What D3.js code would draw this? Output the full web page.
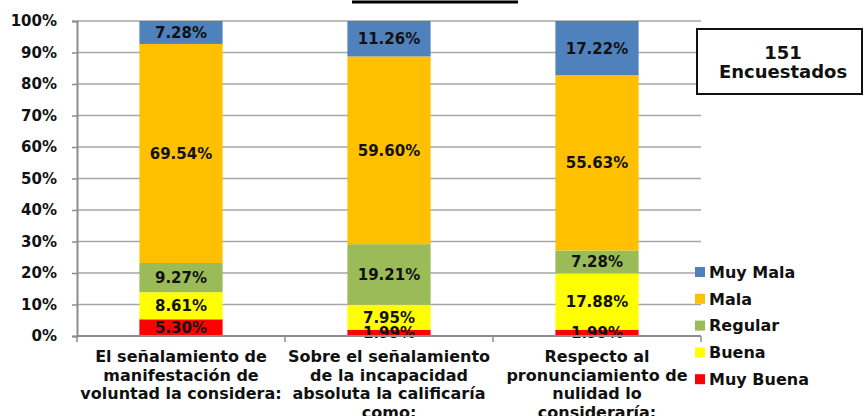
<!DOCTYPE html>
<html>
<head>
<meta charset="utf-8">
<script src="https://cdn.jsdelivr.net/npm/d3@7"></script>
<style>
  body { margin: 0; background: #fff; }
  svg { display: block; font-family: "DejaVu Sans", Arial, sans-serif; }
</style>
</head>
<body>
<svg width="864" height="416"></svg>
<script>
// data
let categories = [
    ["El señalamiento de", "manifestación de", "voluntad la considera:"],
    ["Sobre el señalamiento", "de la incapacidad", "absoluta la calificaría", "como:"],
    ["Respecto al", "pronunciamiento de", "nulidad lo", "consideraría:"]
];
let series = ["Muy Buena", "Buena", "Regular", "Mala", "Muy Mala"];
let muyBuena = [5.30, 1.99, 1.99];
let buena = [8.61, 7.95, 17.88];
let regular = [9.27, 19.21, 7.28];
let mala = [69.54, 59.60, 55.63];
let muyMala = [7.28, 11.26, 17.22];
let colors = ["#FF0000", "#FFFF00", "#9BBB59", "#FFC000", "#4F81BD"];
let yTicks = [0, 10, 20, 30, 40, 50, 60, 70, 80, 90, 100];
let boxText = ["151", "Encuestados"];

let values = [muyBuena, buena, regular, mala, muyMala];
let rows = categories.map((c, i) => {
    let r = {idx: i};
    series.forEach((s, j) => { r[s] = values[j][i]; });
    return r;
});

let svg = d3.select("svg");
let pLeft = 77, pRight = 701, pTop = 21, pBottom = 336;
let font = "DejaVu Sans, Arial, sans-serif";

let xScale = d3.scaleBand()
    .domain(d3.range(categories.length))
    .range([pLeft, pRight])
    .paddingInner(0.6)
    .paddingOuter(0.3);

let yScale = d3.scaleLinear()
    .domain([0, 100])
    .range([pBottom, pTop]);

// gridlines
svg.append("g")
    .selectAll("line")
    .data(yTicks.slice(1))
    .enter()
    .append("line")
    .attr("x1", pLeft)
    .attr("x2", pRight)
    .attr("y1", (d) => yScale(d))
    .attr("y2", (d) => yScale(d))
    .attr("stroke", "#a6a6a6")
    .attr("stroke-width", 1.5);

// stacked bars
let stack = d3.stack().keys(series)(rows);

let layers = svg.append("g")
    .selectAll("g")
    .data(stack)
    .enter()
    .append("g")
    .attr("fill", (d, i) => colors[i]);

layers.selectAll("rect")
    .data((d) => d)
    .enter()
    .append("rect")
    .attr("x", (d) => xScale(d.data.idx))
    .attr("width", xScale.bandwidth())
    .attr("y", (d) => yScale(d[1]))
    .attr("height", (d) => yScale(d[0]) - yScale(d[1]));

// value labels
let labels = svg.append("g");
stack.forEach((layer) => {
    labels.selectAll(null)
        .data(layer)
        .enter()
        .append("text")
        .attr("x", (d) => xScale(d.data.idx) + xScale.bandwidth() / 2)
        .attr("y", (d) => yScale((d[0] + d[1]) / 2))
        .attr("dy", "0.36em")
        .attr("text-anchor", "middle")
        .attr("fill", "#111")
        .attr("font-size", 15)
        .attr("font-weight", "bold")
        .text((d) => d.data[layer.key].toFixed(2) + "%");
});

// y axis
let yAxis = d3.axisLeft(yScale)
    .tickValues(yTicks)
    .tickFormat((d) => d + "%")
    .tickSize(5)
    .tickPadding(15);
let yg = svg.append("g")
    .attr("transform", "translate(" + pLeft + ",0)")
    .call(yAxis);
yg.select(".domain").attr("stroke", "#8c8c8c").attr("stroke-width", 2);
yg.selectAll(".tick line").attr("stroke", "#8c8c8c").attr("stroke-width", 1.5);
yg.selectAll(".tick text")
    .attr("font-size", 15)
    .attr("font-weight", "bold")
    .attr("font-family", font)
    .attr("fill", "#111");

// x axis
let xg = svg.append("g").attr("transform", "translate(0," + pBottom + ")");
xg.append("line")
    .attr("x1", pLeft).attr("x2", pRight)
    .attr("stroke", "#8c8c8c").attr("stroke-width", 2);
let bounds = d3.range(categories.length + 1).map((i) => pLeft + i * (pRight - pLeft) / categories.length);
xg.selectAll(".xt")
    .data(bounds)
    .enter()
    .append("line")
    .attr("x1", (d) => d).attr("x2", (d) => d)
    .attr("y1", 0).attr("y2", 6)
    .attr("stroke", "#8c8c8c").attr("stroke-width", 1.5);

let catText = xg.selectAll(".cat")
    .data(categories)
    .enter()
    .append("text")
    .attr("text-anchor", "middle")
    .attr("font-size", 16)
    .attr("font-weight", "bold")
    .attr("fill", "#111")
    .attr("transform", (d, i) => "translate(" + (xScale(i) + xScale.bandwidth() / 2) + ",0)");
catText.selectAll("tspan")
    .data((d) => d)
    .enter()
    .append("tspan")
    .attr("x", 0)
    .attr("y", (d, i) => 26 + i * 18.5)
    .text((d) => d);

// legend
let legend = svg.append("g")
    .selectAll("g")
    .data(series.slice().reverse())
    .enter()
    .append("g")
    .attr("transform", (d, i) => "translate(695," + (272 + i * 26.8) + ")");
legend.append("rect")
    .attr("x", 0).attr("y", -5)
    .attr("width", 10).attr("height", 10)
    .attr("fill", (d) => colors[series.indexOf(d)]);
legend.append("text")
    .attr("x", 14)
    .attr("dy", "0.36em")
    .attr("font-size", 16)
    .attr("font-weight", "bold")
    .attr("fill", "#111")
    .text((d) => d);

// respondents box
svg.append("rect")
    .attr("x", 697).attr("y", 29)
    .attr("width", 165).attr("height", 65)
    .attr("fill", "#fff")
    .attr("stroke", "#111")
    .attr("stroke-width", 2);
svg.append("g")
    .selectAll("text")
    .data(boxText)
    .enter()
    .append("text")
    .attr("x", 783)
    .attr("y", (d, i) => 59 + i * 19)
    .attr("text-anchor", "middle")
    .attr("font-size", 18)
    .attr("font-weight", "bold")
    .attr("fill", "#111")
    .text((d) => d);

// title remnant line at the top
svg.append("line")
    .attr("x1", 352).attr("x2", 518)
    .attr("y1", 2).attr("y2", 2)
    .attr("stroke", "#000")
    .attr("stroke-width", 3);
</script>
</body>
</html>
